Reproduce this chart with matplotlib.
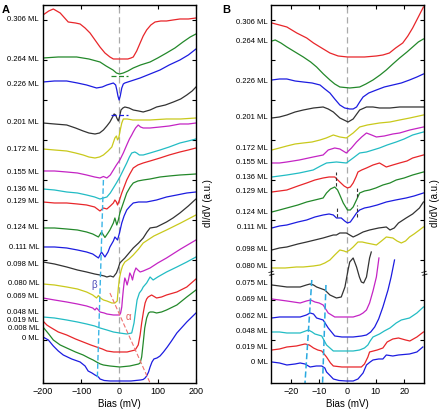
import numpy as np
import matplotlib.pyplot as plt
import matplotlib.transforms as mtransforms

plt.rcParams['font.family'] = ['Liberation Sans', 'DejaVu Sans']

# colours used for the stacked spectra
red = "#e8262a"
green = "#23882a"
blue = "#1c1ce0"
black = "#333333"
yellow = "#c9c91c"
magenta = "#c424c4"
cyan = "#22bcc4"

# ---------------- panel A : wide bias range (mV) / dI/dV (a.u., offset) ----------------
a306_x = [-200, -185, -173, -155, -134, -115, -103, -90, -77, -64, -51, -38, -25, -16, 0, 22, 30, 36, 45, 54, 62, 71, 82, 93, 108, 123, 140, 158, 180, 200]
a306_y = [368, 372, 374, 370, 361, 360, 359, 355, 350, 343, 336, 330, 326, 324, 324, 324, 325, 326, 332, 340, 347, 353, 358, 361, 362, 362, 363, 364, 364, 365]
a264_x = [-200, -160, -112, -80, -51, -35, -17, -8, 0, 10, 22, 36, 55, 80, 100, 123, 145, 166, 185, 200]
a264_y = [325, 326, 326, 324, 321, 317, 313, 310, 309, 310, 312, 315, 318, 321, 325, 330, 335, 341, 346, 349]
a226_x = [-200, -170, -138, -110, -86, -60, -45, -33, -16, -10, -7, -4, -1, 2, 6, 10, 14, 30, 54, 80, 106, 130, 158, 180, 200]
a226_y = [301, 302, 302, 300, 298, 295, 296, 298, 300, 298, 293, 287, 283, 287, 295, 299, 300, 302, 305, 309, 313, 318, 323, 328, 334]
a201_x = [-200, -170, -138, -115, -95, -80, -64, -52, -42, -33, -25, -18, -14, -10, -7, -3, 0, 4, 9, 14, 25, 36, 50, 62, 80, 97, 120, 141, 160, 176, 190, 200]
a201_y = [260, 259, 258, 255, 252, 250, 249, 250, 253, 257, 261, 266, 269, 268, 265, 262, 266, 273, 275, 276, 275, 273, 272, 271, 273, 276, 278, 281, 284, 288, 292, 296]
a172_x = [-200, -170, -138, -115, -95, -80, -64, -52, -42, -30, -20, -12, -8, -5, -2, 2, 6, 10, 20, 35, 54, 80, 123, 160, 200]
a172_y = [234, 233, 232, 230, 228, 226, 225, 226, 228, 232, 236, 245, 247, 243, 245, 253, 260, 264, 264, 263, 263, 263, 264, 264, 265]
a155_x = [-200, -170, -138, -110, -86, -65, -51, -42, -33, -24, -16, -8, 1, 10, 19, 26, 32, 36, 42, 49, 55, 62, 80, 106, 130, 158, 180, 200]
a155_y = [212, 212, 211, 210, 208, 206, 205, 206.5, 205, 208, 213, 218, 223, 230, 238, 244, 248, 251, 255, 258, 256, 255, 255, 256, 257, 259, 259, 260]
a136_x = [-200, -170, -138, -110, -86, -65, -51, -42, -33, -24, -16, -8, 1, 10, 19, 26, 32, 40, 45, 52, 62, 80, 106, 130, 158, 180, 200]
a136_y = [194, 193, 191, 190, 188, 186, 184, 185, 186, 190, 195, 200, 206, 213, 220, 226, 230, 231, 230, 228, 228, 230, 233, 236, 240, 242, 244]
a129_x = [-200, -170, -138, -110, -86, -65, -51, -42, -33, -24, -16, -12, -8, -5, 0, 6, 12, 19, 27, 36, 48, 62, 80, 106, 130, 158, 180, 200]
a129_y = [181, 180, 180, 179, 178, 176, 172, 175, 174, 177, 180, 183, 181, 178, 183, 190, 196, 203, 209, 215, 218, 220, 222, 225, 228, 231, 233, 235]
a124_x = [-200, -170, -138, -110, -86, -70, -55, -47, -38, -30, -25, -16, -12, -7, -3, 1, 10, 19, 28, 36, 48, 62, 80, 106, 130, 158, 180, 200]
a124_y = [155, 155, 154, 153, 151, 149, 146, 151, 145.5, 150, 153, 160, 165, 158, 163, 170, 180, 190, 196, 200, 202, 203, 204, 206, 207, 208, 208.5, 209]
a111_x = [-200, -170, -138, -110, -86, -70, -55, -47, -38, -30, -25, -16, -12, -5, 0, 6, 12, 19, 28, 36, 50, 71, 97, 123, 150, 176, 200]
a111_y = [136, 136, 135, 133, 131, 129, 125, 131, 126, 131, 136, 142, 146, 143, 150, 160, 167, 173, 177, 180, 181, 181, 183, 186, 188, 190, 191]
a098_x = [-200, -170, -138, -110, -86, -65, -51, -40, -33, -24, -16, -8, -3, 1, 6, 14, 25, 36, 50, 62, 72, 80, 97, 123, 140, 158, 180, 197, 200]
a098_y = [121, 119, 116, 113, 111, 109, 108, 107, 106, 107, 106, 110, 115, 120, 122, 125, 130, 135, 140, 145, 151, 155, 156, 161, 165, 170, 177, 183, 184]
a080_x = [-200, -170, -138, -110, -86, -70, -60, -55, -50, -42, -33, -20, -12, -6, -3, 0, 4, 8, 14, 25, 36, 50, 62, 90, 123, 160, 200]
a080_y = [99, 98, 96, 94, 91, 88, 85, 87.5, 85, 83, 82, 80, 80, 82, 95, 105, 112, 117, 121, 124, 128, 134, 140, 147, 153, 160, 168]
a069_x = [-200, -170, -138, -110, -86, -70, -64, -60, -55, -51, -40, -33, -16, 0, 3, 6, 8, 10, 12, 14, 17, 20, 24, 27, 31, 34, 38, 43, 48, 54, 62, 80, 100, 123, 160, 200]
a069_y = [85, 83, 81, 79, 77, 75, 73, 75, 73, 71, 70, 69, 68, 68, 70, 76, 85, 93, 100, 105, 102, 98, 104, 110, 107, 103, 110, 115, 113, 111, 112, 115, 120, 125, 134, 143]
a048_x = [-200, -170, -138, -110, -86, -65, -51, -33, -16, 0, 19, 32, 38, 42, 46, 52, 58, 62, 71, 80, 88, 100, 123, 150, 176, 200]
a048_y = [66, 65, 63, 61, 59, 57, 55, 53, 51, 50, 49, 50, 60, 72, 83, 90, 93, 96, 100, 106, 103, 106, 111, 116, 121, 126]
a019_x = [-200, -190, -182, -160, -138, -115, -95, -75, -60, -45, -33, -15, 1, 20, 41, 49, 54, 58, 63, 67, 71, 75, 84, 97, 110, 123, 150, 176, 200]
a019_y = [62, 58, 56, 51, 48, 44, 41, 38, 36, 34, 32, 31, 31, 31, 33, 38, 48, 60, 72, 80, 84, 86, 88, 85, 86, 88, 91, 96, 104]
a008_x = [-200, -185, -173, -155, -138, -115, -95, -80, -69, -60, -55, -50, -42, -25, 1, 27, 50, 54, 58, 62, 66, 71, 76, 80, 88, 97, 110, 123, 150, 176, 200]
a008_y = [56, 49, 43, 38, 35, 31, 28, 25, 23, 21, 20, 19, 18, 17, 16, 17, 19, 20, 26, 40, 55, 65, 70, 71, 71, 70, 71, 73, 78, 86, 93]
a000_x = [-200, -186, -173, -160, -147, -125, -103, -90, -82, -72, -64, -55, -51, -40, -25, 0, 30, 55, 62, 67, 71, 76, 80, 85, 90, 98, 106, 115, 125, 136, 150, 176, 200]
a000_y = [46, 43, 37, 32, 28, 24, 21, 17, 12, 10, 8, 6, 4, 2.5, 2, 2, 2, 3, 3.5, 5, 7, 11, 16, 21, 24, 25, 27, 31, 36, 42, 50, 61, 70]

a_labels = ["0.306 ML", "0.264 ML", "0.226 ML", "0.201 ML", "0.172 ML", "0.155 ML", "0.136 ML", "0.129 ML", "0.124 ML",
            "0.111 ML", "0.098 ML", "0.080 ML", "0.069 ML", "0.048 ML", "0.019 ML", "0.008 ML", "0 ML"]
a_label_y = [363, 323, 298, 260, 233, 210, 193, 181, 155, 135, 118.5, 99, 86, 70, 62, 54, 44]
a_curves = [(a306_x, a306_y, red), (a264_x, a264_y, green), (a226_x, a226_y, blue), (a201_x, a201_y, black),
            (a172_x, a172_y, yellow), (a155_x, a155_y, magenta), (a136_x, a136_y, cyan), (a129_x, a129_y, red),
            (a124_x, a124_y, green), (a111_x, a111_y, blue), (a098_x, a098_y, black), (a080_x, a080_y, yellow),
            (a069_x, a069_y, magenta), (a048_x, a048_y, cyan), (a019_x, a019_y, red), (a008_x, a008_y, green),
            (a000_x, a000_y, blue)]

# guide lines in A
beta_x = [-42, -58]
beta_y = [203, 3]
alpha_x = [-25, 80]
alpha_y = [90, 0]

# ---------------- panel B : narrow bias range ----------------
b306_x = [-26.7, -24, -21.4, -17.9, -14.4, -12, -9.7, -6.2, -3.3, 0, 2, 6, 10.2, 12.5, 14.8, 17, 19.5, 21.3, 23, 25, 26.8]
b306_y = [360, 358, 356, 350, 345, 340, 336, 330, 327, 326, 326, 326, 327, 328, 330, 335, 340, 347, 355, 366, 376]
b264_x = [-26.7, -25.5, -23.5, -21.4, -18.5, -15.6, -13, -10.9, -8.5, -6.2, -4.5, -2.7, 0.8, 4.3, 6.5, 9, 11.5, 13.7, 16, 18.4, 21, 23, 25, 26.8]
b264_y = [342, 343, 340, 336, 331, 326, 321, 316, 309, 303, 299, 296, 295, 296, 299, 303, 308, 313, 319, 325, 331, 336, 341, 344]
b226_x = [-26.7, -24, -21.4, -18.5, -15.6, -12.5, -9.7, -8, -6.2, -4.5, -2.7, -1, 0.8, 2, 3.2, 4.3, 5.5, 7.5, 10.2, 13, 16, 19, 21.9, 24.5, 26.8]
b226_y = [303, 304, 304, 302, 301, 300, 298, 294, 290, 284, 278, 275, 274, 274, 276, 281, 286, 290, 293, 296, 298, 300, 303, 306, 309]
b201_x = [-26.7, -24, -21.4, -18.5, -15.6, -12, -8.6, -6.8, -5, -2.7, 0.2, 2, 4.3, 6.7, 9, 11.3, 15, 18.4, 22, 26.8]
b201_y = [265, 266, 268, 271, 273, 275, 276, 274, 271, 265, 261, 264, 273, 276, 276, 275, 275, 276, 276, 276]
b172_x = [-26.7, -24, -21.4, -18.5, -15.6, -12.5, -9.7, -7.5, -5, -2.7, -0.4, 2, 4.3, 7, 11.3, 15, 18.4, 22, 26.8]
b172_y = [233, 235, 237, 239, 240, 241, 243, 245, 248, 246, 245, 250, 256, 258, 260, 261, 263, 265, 268]
b155_x = [-26.7, -24, -21.4, -17, -12.1, -8.6, -6.8, -4.5, -2.7, -0.4, 1.4, 3.2, 5, 6.7, 8.5, 10.2, 13, 16, 18.4, 22, 26.8]
b155_y = [220, 220, 221, 223, 226, 228, 233, 235, 234, 230, 235, 241, 246, 250, 248, 246, 247, 249, 250, 253, 256]
b136_x = [-26.7, -24, -21.4, -17, -12.1, -9.5, -7.4, -3.9, -0.4, 2, 4.3, 6.7, 9, 11.3, 14, 17.2, 20, 23, 26.8]
b136_y = [206, 207, 208, 210, 213, 217, 220, 221, 220, 225, 230, 231, 233, 235, 238, 241, 244, 248, 251]
b129_x = [-26.7, -24, -21.4, -17.5, -14.4, -11.5, -8.6, -6.5, -4.5, -2.7, -1.2, 0, 1, 2, 3, 3.7, 5, 6.7, 9, 11.3, 13.7, 16, 18.4, 21, 23, 26.8]
b129_y = [191, 192, 193, 197, 200, 203, 205, 206, 206, 201, 197, 195, 196, 200, 206, 211, 213, 215, 218, 220, 216, 218, 220, 222, 225, 228]
b124_x = [-26.7, -24, -21.4, -17.5, -14.4, -11.5, -8.6, -7.4, -6, -4.5, -3.5, -2.7, -1.5, 0, 1, 2, 3, 4.3, 6, 7.8, 10, 12.5, 15, 17.2, 20, 23, 26.8]
b124_y = [171, 173, 175, 178, 181, 183, 185, 190, 194, 196, 193, 188, 180, 173, 173, 176, 182, 190, 192, 193, 195, 198, 200, 203, 205, 208, 211]
b111_x = [-26.7, -24, -21.4, -17.5, -14.4, -11.5, -8.6, -6.5, -5, -3.9, -2.2, -1, 0, 1, 2, 3.2, 4.3, 6, 7.8, 10.5, 13.7, 17, 20.7, 23.5, 26.8]
b111_y = [155, 157, 158, 161, 163, 166, 168, 169, 168, 165, 165, 162, 160, 161, 165, 170, 173, 175, 176, 178, 181, 183, 185, 187, 190]
b098_x = [-26.7, -24, -21.4, -17.5, -14.4, -11.5, -8.6, -5, -3.9, -2.7, -0.4, 2, 3.5, 5.5, 7.8, 11, 13.7, 15, 16.5, 18, 20.7, 23, 25.4, 26.8]
b098_y = [133, 135, 136, 139, 141, 143, 145, 148, 148, 150, 150, 146, 148, 151, 153, 155, 156, 153, 155, 160, 165, 169, 175, 181]
b080_x = [-26.7, -22, -18, -15.6, -12, -9.7, -8, -6.2, -4.5, -2.7, -1.2, -0.4, 0.8, 2, 3.7, 5.2, 6.7, 8.5, 10.2, 12, 13.7, 16, 17.5, 19, 20.5, 21.9, 23.5, 25.4, 26.8]
b080_y = [115, 115, 116, 116, 117, 118, 120, 123, 128, 133, 132, 131, 133, 136, 141, 141, 140, 139, 138, 142, 146, 145, 142, 140, 142, 146, 149, 153, 156]
b075_x = [-26.7, -24, -21.4, -16.7, -14.5, -13.2, -12, -10.9, -8, -6.2, -3.9, -2.2, -0.9, 0.2, 0.8, 2, 3.2, 4.2, 4.9, 5.7, 6.7, 7.8, 8.4]
b075_y = [98, 97, 96, 96, 98, 99, 98, 96, 93, 88, 85, 86, 96, 113, 121, 125, 116, 106, 101, 100, 106, 125, 131]
b069_x = [-26.7, -24, -21.4, -16.7, -14.5, -13, -11.5, -10, -8.6, -6.8, -4.5, -2, -0.4, 2, 4.3, 5.5, 6.7, 7.8, 9, 10.2, 11.1]
b069_y = [84, 83, 82, 80, 82, 83, 81, 80, 78, 70, 66, 66, 66, 66, 68, 70, 73, 80, 92, 106, 125]
b062_x = [-26.7, -24, -21.4, -16.7, -14.5, -13.2, -12, -10.9, -8.6, -6.8, -4.5, -2, 2, 5, 6.7, 8.2, 9.6, 11, 12.5, 14.3, 15.4, 16.6]
b062_y = [65, 66, 66, 66, 68, 70, 69, 65, 63, 55, 47, 46, 46, 47, 48, 51, 56, 64, 76, 93, 106, 123]
b048_x = [-26.7, -24, -21.4, -16.7, -13.8, -12.5, -11.5, -9.1, -7.4, -5, -2, -0.4, 2, 4.3, 6, 7.2, 8, 9, 11.3, 13, 15, 17.2, 19, 21.9, 24.5, 26.8]
b048_y = [51, 51, 50, 50, 53, 51, 49, 47, 38, 32, 32, 32, 32, 33, 35, 38, 42, 46, 49, 52, 55, 60, 63, 65, 70, 76]
b019_x = [-26.7, -24, -21.4, -18, -15, -13.5, -12, -10.5, -9.1, -7.4, -6, -5, -2, -0.4, 2, 4.9, 6, 7.2, 7.8, 10.5, 12.5, 14, 16, 18, 20.5, 22, 24.5, 26.8]
b019_y = [33, 34, 36, 37, 39, 38, 35, 33, 32, 26, 20, 17, 16, 16, 16, 16, 19, 26, 31, 33, 35, 41, 44, 45, 43, 42, 46, 51]
b000_x = [-26.7, -24, -21.4, -18.5, -16.7, -15, -13.2, -11, -9.1, -8, -7.4, -6, -5, -3, -0.4, 2, 3.7, 4.6, 5.5, 6.7, 8, 9, 11, 12.5, 13.7, 16, 18, 21.9, 24.5, 26.6]
b000_y = [21, 20, 18, 19, 20, 19, 16, 17, 17, 15, 11, 7, 4, 2.5, 2, 2, 4, 7, 10, 18, 21, 23, 24, 24, 28, 27, 28, 29, 31, 36]

b_labels = ["0.306 ML", "0.264 ML", "0.226 ML", "0.201 ML", "0.172 ML", "0.155 ML", "0.136 ML", "0.129 ML", "0.124 ML",
            "0.111 ML", "0.098 ML", "0.080 ML", "0.075 ML", "0.069 ML", "0.062 ML", "0.048 ML", "0.019 ML", "0 ML"]
b_label_y = [360, 341, 301, 265, 234, 220, 205, 191, 170, 155, 133, 116, 99, 83, 66, 51, 35, 20]
b_curves = [(b306_x, b306_y, red), (b264_x, b264_y, green), (b226_x, b226_y, blue), (b201_x, b201_y, black),
            (b172_x, b172_y, yellow), (b155_x, b155_y, magenta), (b136_x, b136_y, cyan), (b129_x, b129_y, red),
            (b124_x, b124_y, green), (b111_x, b111_y, blue), (b098_x, b098_y, black), (b080_x, b080_y, yellow),
            (b075_x, b075_y, black), (b069_x, b069_y, magenta), (b062_x, b062_y, blue), (b048_x, b048_y, cyan),
            (b019_x, b019_y, red), (b000_x, b000_y, blue)]

# guide lines in B
peak1_x = [-12.6, -15]
peak1_y = [103, 0]
peak2_x = [-7.6, -8.8]
peak2_y = [98, 0]
gap_marks = [(-3.9, 197, 211), (3.4, 186, 196), (-3.6, 166, 176), (3.4, 166, 178)]

fig = plt.figure(figsize=(4.4, 4.09), dpi=100)
axA = fig.add_axes([0.0977, 0.0636, 0.3477, 0.9242])
axB = fig.add_axes([0.6159, 0.0636, 0.3477, 0.9242])


def style_axes(ax, xlim, xticks):
    ax.set_xlim(*xlim)
    ax.set_ylim(0, 378)
    ax.set_xticks(xticks)
    ax.set_xticklabels([str(t).replace("-", "\u2212") for t in xticks])
    ax.set_yticks(np.arange(43, 378, 40))
    ax.set_yticklabels([])
    ax.tick_params(direction="in", top=True, right=True, length=3, width=0.8, labelsize=6.5, pad=3)
    for s in ax.spines.values():
        s.set_linewidth(1.0)
    ax.set_xlabel("Bias (mV)", fontsize=7, labelpad=2)


# panel A
axA.axvline(0, color="#aaaaaa", lw=0.9, dashes=(5, 3))
for x, y, c in a_curves:
    axA.plot(x, y, color=c, lw=0.9)
axA.plot(beta_x, beta_y, color="#3ab4e6", lw=1.0, dashes=(4, 2))
axA.plot(alpha_x, alpha_y, color="#f07070", lw=0.8, dashes=(4, 2))
axA.plot([-22, 21], [307, 307], color=green, lw=0.9, dashes=(4, 2))
axA.plot([-22, 21], [268, 268], color=blue, lw=0.9, dashes=(4, 2))
axA.text(-66, 98, "\u03b2", color="#4a4ab8", fontsize=7, ha="center", va="center")
axA.text(23, 66, "\u03b1", color="#e05a5a", fontsize=7, ha="center", va="center")
style_axes(axA, (-200, 200), [-200, -100, 0, 100, 200])
transA = mtransforms.blended_transform_factory(axA.transAxes, axA.transData)
for lab, yy in zip(a_labels, a_label_y):
    axA.text(-0.026, yy, lab, transform=transA, fontsize=5.5, ha="right", va="center")

# panel B
axB.axvline(0, color="#aaaaaa", lw=0.9, dashes=(5, 3))
for x, y, c in b_curves:
    axB.plot(x, y, color=c, lw=0.9)
axB.plot(peak1_x, peak1_y, color="#29a9e0", lw=1.1, dashes=(4, 2))
axB.plot(peak2_x, peak2_y, color="#29a9e0", lw=1.1, dashes=(4, 2))
for gx, y0, y1 in gap_marks:
    axB.plot([gx, gx], [y0, y1], color="#333333", lw=0.8, dashes=(3, 2))
style_axes(axB, (-27, 27), [-20, -10, 0, 10, 20])
transB = mtransforms.blended_transform_factory(axB.transAxes, axB.transData)
for lab, yy in zip(b_labels, b_label_y):
    axB.text(-0.02, yy, lab, transform=transB, fontsize=5.5, ha="right", va="center")
for xa in (0, 1):
    axB.text(xa, 109, "=", transform=transB, fontsize=8, ha="center", va="center", rotation=15)

fig.text(208 / 440, 1 - 203 / 409, "dI/dV (a.u.)", rotation=90, fontsize=7, ha="center", va="center")
fig.text(435 / 440, 1 - 203 / 409, "dI/dV (a.u.)", rotation=90, fontsize=7, ha="center", va="center")
fig.text(2 / 440, 1 - 10 / 409, "A", fontsize=8, fontweight="bold", ha="left", va="center")
fig.text(222 / 440, 1 - 10 / 409, "B", fontsize=8, fontweight="bold", ha="left", va="center")

fig.savefig("out.png", dpi=100)
